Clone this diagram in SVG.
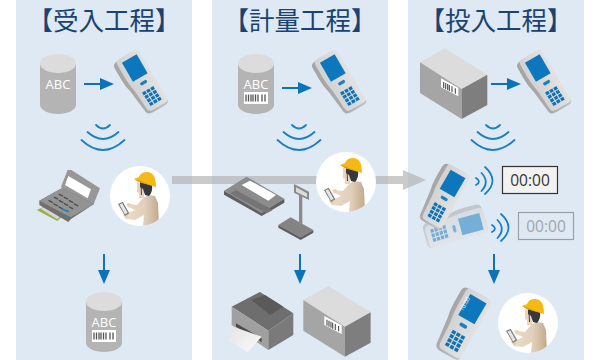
<svg xmlns="http://www.w3.org/2000/svg" width="600" height="360" viewBox="0 0 600 360">
<style>
.panel{fill:#dfe9f4}
.title{font-family:"Noto Sans CJK JP","Noto Sans",sans-serif;font-size:25.500px;fill:#1a4272;text-anchor:middle}
.abc{font-family:"Open Sans","Liberation Sans",sans-serif;font-size:13px;fill:#fff;text-anchor:middle}
.time{font-family:"Open Sans","Liberation Sans",sans-serif;font-size:15.500px;text-anchor:middle}
.flow{stroke:#0d73b8;stroke-width:2;fill:none}
.head{fill:#0d73b8}
.wave{stroke:#1a80c4;stroke-width:1.800;fill:none;stroke-linecap:round}
</style>
<defs>
<linearGradient id="bodyShade" x1="0" x2="1" y1="0" y2="0"><stop offset="0" stop-color="#a4a4a4"/><stop offset="1" stop-color="#c4c4c4"/></linearGradient>
<linearGradient id="faceShade" x1="0" x2="1" y1="0" y2="0"><stop offset="0" stop-color="#d2d2d2"/><stop offset="1" stop-color="#e2e2e2"/></linearGradient>
<linearGradient id="shirt" x1="0" x2="1" y1="0" y2="0"><stop offset="0" stop-color="#ecdccb"/><stop offset=".6" stop-color="#e2cfba"/><stop offset="1" stop-color="#c2a98c"/></linearGradient>
<linearGradient id="sheet" x1="0" x2="1" y1="0" y2="1"><stop offset="0" stop-color="#e4e4e4"/><stop offset="1" stop-color="#fafafa"/></linearGradient>
<clipPath id="badge"><circle r="30"/></clipPath>

<!-- upright handheld terminal, centred near the origin: wide head, slightly slimmer grip -->
<g id="handheld">
<path d="M-14 -26 Q-14 -31 -9 -31 L10 -32 L16 28 Q16 31 11 31 L-3 31 Q-8 31 -9 27 L-12 2 Q-14 -6 -14 -14 Z" fill="url(#bodyShade)"/>
<path d="M-10 -28 Q-10 -32 -6 -32 L12 -32 Q16 -32 16 -28 L16.500 25 Q16.500 29 12.500 29 L-2 29 Q-6 29 -6.500 25 L-8 4 Q-10 -6 -10 -14 Z" fill="url(#faceShade)"/>
<rect x="-5" y="-27.500" width="17" height="22" fill="#0d77bd"/>
<rect x="0" y="-1" width="7.500" height="3.200" rx="1.500" fill="#1a80c4"/>
<g fill="#0d73b8">
<rect x="-2.500" y="8.500" width="3.600" height="3.200"/><rect x="2.200" y="8.500" width="3.600" height="3.200"/><rect x="6.900" y="8.500" width="3.600" height="3.200"/>
<rect x="-2.300" y="12.700" width="3.600" height="3.200"/><rect x="2.400" y="12.700" width="3.600" height="3.200"/><rect x="7.100" y="12.700" width="3.600" height="3.200"/>
<rect x="-2.100" y="16.900" width="3.600" height="3.200"/><rect x="2.600" y="16.900" width="3.600" height="3.200"/><rect x="7.300" y="16.900" width="3.600" height="3.200"/>
<rect x="-1.900" y="21.100" width="3.600" height="3.200"/><rect x="2.800" y="21.100" width="3.600" height="3.200"/><rect x="7.500" y="21.100" width="3.600" height="3.200"/>
</g>
</g>

<!-- worker with helmet reading a tablet, inside a white disc -->
<g id="worker">
<circle r="30" fill="#fff"/>
<g clip-path="url(#badge)">
<path d="M3 2 L8 -1 L15 0 L18 7 L19 30 L3 30 L4 19 L-5 24 L-14 23 L-16 19 L-5 14 L-12 11 L-11 8 L-3 9 Z" fill="url(#shirt)"/>
<path d="M-14 23 L-17 19 L-15 17 L-11 20 Z M-12 11 L-14 8 L-11 7 L-8 9 Z" fill="#e9cfb6"/>
<path d="M-22 8 L-17.300 5.700 L-10.700 17.300 L-15 20 Z" fill="#7d7d7d"/>
<path d="M-20.500 8.600 L-17.800 7.300 L-12.400 16.800 L-15 18.400 Z" fill="#e6e6e6"/>
<path d="M-3 -14 L4 -13 L4 2 L-1 2 L-1 -3 L-3 -4 Z" fill="#ecd3ba"/>
<path d="M0 -14 L12 -12 Q13 -4 9 0 L5 -1 L3 -7 L0 -9 Z" fill="#35383c"/>
<path d="M1 -12 L1.500 -1" stroke="#444" stroke-width="1" fill="none"/>
<path d="M-6 -17 L-1 -19 Q1 -24 7 -24 Q16 -24 16 -9 L11 -10.500 L-1 -14 Z" fill="#f5b915"/>
<path d="M-6 -17 L-1 -15.500 L16 -9 L11 -10.500 L-1 -14 Z" fill="#d99f0c"/>
</g>
</g>

<!-- concentric signal arcs, horizontal -->
<g id="arcs">
<path class="wave" d="M-7 0 Q0 7 7 0"/>
<path class="wave" d="M-15.500 7 Q0 21 15.500 7"/>
<path class="wave" d="M-21.500 15 Q0 35 21.500 15"/>
</g>
<!-- the same arcs radiating to the right -->
<g id="arcsSide">
<path class="wave" d="M0 6 Q6 9.500 0 13"/>
<path class="wave" d="M5.500 1 Q14 10 5.500 19"/>
<path class="wave" d="M9 -5 Q24 8.500 9 22"/>
</g>

<g id="barcode">
<rect width="24" height="12" fill="#fff"/>
<path d="M2 2.500V9.500M4.500 2.500V9.500M7 2.500V9.500M9 2.500V9.500M11.500 2.500V9.500M14 2.500V9.500M18 2.500V9.500M21 2.500V9.500" stroke="#555" stroke-width="1.300"/>
</g>

<!-- drum: 36 wide, 60 tall, origin at top left -->
<g id="drum">
<path d="M0 9.500V50.500A18 9.500 0 0 0 36 50.500V9.500Z" fill="#b4b4b4"/>
<ellipse cx="18" cy="9.500" rx="18" ry="9.500" fill="#dcdcdc"/>
</g>

<!-- carton with a barcode label, drawn at one third scale -->
<g id="carton">
<path d="M0 42 L75 0 L202 79 L125 122 Z" fill="#dcdcdc"/>
<path d="M0 42 L125 122 V212 L0 134 Z" fill="#a5a5a5"/>
<path d="M125 122 L202 79 V170 L125 212 Z" fill="#7e7e7e"/>
<path d="M63 90 L115 118 V144 L63 117 Z" fill="#fff"/>
<path d="M71 101V119M77 104V122M83 107V125M88 110V128M96 114V132M106 120V136" stroke="#555" stroke-width="3.500"/>
</g>
</defs>

<g id="panels">
<rect class="panel" x="16" y="0" width="176" height="360"/>
<rect class="panel" x="212" y="0" width="176" height="360"/>
<rect class="panel" x="408" y="0" width="176" height="360"/>
</g>

<g id="connectors">
<path id="process-flow" d="M172 176H403V170L426 180L403 190V184H172Z" fill="#afafaf" opacity=".65"/>
<g id="flow-read-1"><path class="flow" d="M84 84H101"/><path class="head" d="M100 78L114 84L100 90Z"/></g>
<g id="flow-read-2"><path class="flow" d="M282 88H299"/><path class="head" d="M298 82L312 88L298 94Z"/></g>
<g id="flow-read-3"><path class="flow" d="M491 84H508"/><path class="head" d="M507 78L521 84L507 90Z"/></g>
<g id="flow-down-1"><path class="flow" d="M104 254V271"/><path class="head" d="M98 270H110L104 284Z"/></g>
<g id="flow-down-2"><path class="flow" d="M300 254V271"/><path class="head" d="M294 270H306L300 284Z"/></g>
<g id="flow-down-3"><path class="flow" d="M494 254V271"/><path class="head" d="M488 270H500L494 284Z"/></g>
</g>

<g id="titles">
<text class="title" x="104" y="30">【受入工程】</text>
<text class="title" x="300" y="30">【計量工程】</text>
<text class="title" x="496" y="30">【投入工程】</text>
</g>

<g id="receiving">
<g id="drum-plain"><use href="#drum" x="40" y="54"/><text class="abc" x="58" y="89">ABC</text></g>
<g id="reader-receiving"><use href="#handheld" transform="translate(140 84) rotate(-30)"/></g>
<g id="signal-receiving"><use href="#arcs" x="103" y="125"/></g>
<g id="label-printer" transform="translate(0 160) scale(.3333)">
<path d="M110 150 L145 134 L192 165 L172 183 Z" fill="#9bb04a"/>
<path d="M122 146 L146 135 L188 163 L172 178 Z" fill="#d6d6d6"/>
<path d="M183 80 L203 30 L214 30 L300 85 L280 135 L230 135 Z" fill="#979797"/>
<path d="M195 75 L205 48 L273 88 L263 115 Z" fill="#fff"/>
<path d="M118 122 L185 85 L282 132 L212 178 L205 186 L118 135 Z" fill="#6f6f6f"/>
<path d="M118 122 L185 85 L282 132 L212 172 Z" fill="#939393"/>
<g stroke="#4a4a4a" stroke-width="4" stroke-linecap="round">
<path d="M147 122L157 127M163 112L173 117M178 103L188 108"/>
<path d="M162 132L172 137M178 122L188 127M193 112L203 117"/>
<path d="M177 141L187 146M193 131L203 136M208 122L218 127"/>
<path d="M208 141L218 146M223 132L233 137"/>
</g>
<path d="M186 147L207 155" stroke="#1a80c4" stroke-width="5"/>
</g>
<g id="worker-receiving"><use href="#worker" x="140" y="196"/></g>
<g id="drum-coded-output"><use href="#drum" x="86" y="292"/><text class="abc" x="104" y="327">ABC</text><use href="#barcode" x="92" y="330"/></g>
</g>

<g id="weighing">
<g id="drum-coded"><use href="#drum" x="238" y="54"/><text class="abc" x="256" y="89">ABC</text><use href="#barcode" x="244" y="92"/></g>
<g id="reader-weighing"><use href="#handheld" transform="translate(338 84) rotate(-30)"/></g>
<g id="signal-weighing"><use href="#arcs" x="299" y="125"/></g>
<g id="weigh-terminal" transform="translate(200 160) scale(.3333)">
<path d="M72 92 V104 L185 168 L253 128 V116 L185 156 Z" fill="#5f5f5f"/>
<path d="M72 92 L140 50 L253 116 L185 160 Z" fill="#8c8c8c"/>
<path d="M90 100 L108 90 L218 150 L200 160 Z" fill="#757575"/>
<path d="M125 75 L150 62 L228 105 L205 122 Z" fill="#fff"/>
</g>
<g id="scale" transform="translate(200 160) scale(.3333)">
<path d="M235 195 L272 172 L340 210 L302 232 Z" fill="#848484"/>
<path d="M235 195 V203 L302 240 L340 218 V210 L302 232 Z" fill="#5e5e5e"/>
<path d="M297 100 L307 105 V195 L297 190 Z" fill="#8a8a8a"/>
<path d="M282 72 L327 95 V120 L282 98 Z" fill="#8a8a8a"/>
<path d="M288 82 L321 100 V112 L288 95 Z" fill="#dcdcdc"/>
</g>
<g id="worker-weighing"><use href="#worker" x="346" y="182"/></g>
<g id="printer" transform="translate(200 160) scale(.3333)">
<path d="M95 440 L180 396 L280 460 L205 512 Z" fill="#6e6e6e"/>
<path d="M155 420 L195 405 L250 440 L210 465 Z" fill="#5a5a5a"/>
<path d="M95 440 L205 512 V570 L95 495 Z" fill="#a0a0a0"/>
<path d="M205 512 L280 460 V525 L205 570 Z" fill="#7a7a7a"/>
<path d="M108 490 L185 535 V546 L108 500 Z" fill="#4a4a4a"/>
<path d="M105 502 L185 530 L143 577 L85 540 Z" fill="url(#sheet)"/>
</g>
<g id="carton-weighing"><use href="#carton" transform="translate(303.300 286) scale(.3333)"/></g>
</g>

<g id="loading">
<g id="carton-loading"><use href="#carton" transform="translate(420 48.300) scale(.3333)"/></g>
<g id="reader-loading"><use href="#handheld" transform="translate(543 84) rotate(-30)"/></g>
<g id="signal-loading"><use href="#arcs" x="493" y="125"/></g>
<g id="reader-faded" opacity=".5"><use href="#handheld" transform="translate(454 225) rotate(75)"/></g>
<g id="reader-active"><use href="#handheld" transform="translate(443 197) rotate(30) translate(-2 0)"/></g>
<g id="signal-active"><use href="#arcsSide" x="476" y="172"/></g>
<g id="signal-faded"><use href="#arcsSide" x="492" y="219"/></g>
<g id="timer-active"><rect x="502.500" y="166.500" width="55" height="27" fill="#f2f2f2" stroke="#333" stroke-width="1.200"/><text class="time" x="530" y="185.500" fill="#333">00:00</text></g>
<g id="timer-faded"><rect x="518.500" y="212.500" width="55" height="27" fill="none" stroke="#9a9fa6" stroke-width="1.200"/><text class="time" x="546" y="231.500" fill="#a0a5ab">00:00</text></g>
<g id="reader-done">
<use href="#handheld" transform="translate(460 323) rotate(30) scale(1.100)"/>
<text transform="translate(466.500 305) rotate(-60)" font-family="Open Sans, Liberation Sans, sans-serif" font-size="6" fill="#fff" text-anchor="middle">10:00</text>
</g>
<g id="worker-loading"><use href="#worker" x="528" y="323"/></g>
</g>
</svg>
